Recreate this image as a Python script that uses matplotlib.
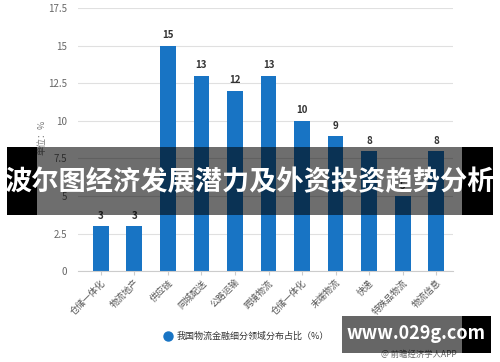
import matplotlib.pyplot as plt
from matplotlib.patches import Rectangle
from matplotlib.lines import Line2D

plt.rcParams['font.family'] = ['Noto Sans CJK SC', 'DejaVu Sans']

# chart data
categories = ["仓储一体化", "物流地产", "供应链", "同城配送", "公路运输", "跨境物流",
              "仓储一体化", "末端物流", "快递", "特殊品物流", "物流信息"]
values = [3, 3, 15, 13, 12, 13, 10, 9, 8, 5, 8]
yticks = [0, 2.5, 5, 7.5, 10, 12.5, 15, 17.5]
legend_label = "我国物流金融细分领域分布占比（%）"
banner_text = "波尔图经济发展潜力及外资投资趋势分析"

bar_color = '#1874c4'

fig = plt.figure(figsize=(5, 3.62), dpi=100)
ax = fig.add_axes([0.156, 0.251, 0.75, 0.727])

x = range(len(categories))
ax.bar(x, values, width=0.47, color=bar_color, zorder=2)

# value labels on top of bars
for xi, v in zip(x, values):
    ax.text(xi, v + 0.35, str(v), ha='center', va='bottom', fontsize=7,
            fontweight='bold', color='#333333', zorder=3)

ax.set_ylim(0, 17.5)
ax.set_xlim(-0.68, 10.5)
ax.set_yticks(yticks)
ax.set_yticklabels([f"{t:g}" for t in yticks], fontsize=7, color='#666666')
ax.set_xticks(list(x))
ax.set_xticklabels(categories, rotation=45, ha='right', rotation_mode='anchor',
                   fontsize=6.5, color='#555555')
ax.tick_params(axis='y', length=0, pad=8)
ax.tick_params(axis='x', length=3, color='#cccccc', pad=2)

ax.grid(axis='y', color='#e0e0e0', linewidth=0.8, zorder=0)
for s in ['top', 'right', 'left']:
    ax.spines[s].set_visible(False)
ax.spines['bottom'].set_color('#cccccc')

fig.text(0.084, 0.62, "单位：%", rotation=90, fontsize=6.5, color='#777777',
         ha='center', va='center')

# legend
fig.add_artist(Line2D([0.336], [0.072], marker='o', markersize=6.5,
                      color=bar_color, transform=fig.transFigure))
fig.text(0.354, 0.072, legend_label, fontsize=6.5, color='#333333',
         va='center', ha='left')

# overlay banner: black ends, translucent middle
fig.add_artist(Rectangle((0.014, 0.406), 0.06, 0.188, transform=fig.transFigure,
                         facecolor='black', edgecolor='none', zorder=10))
fig.add_artist(Rectangle((0.924, 0.406), 0.062, 0.188, transform=fig.transFigure,
                         facecolor='black', edgecolor='none', zorder=10))
fig.add_artist(Rectangle((0.074, 0.406), 0.85, 0.188, transform=fig.transFigure,
                         facecolor='black', alpha=0.57, edgecolor='none', zorder=10))
fig.text(0.5, 0.497, banner_text, fontsize=19.6, fontweight='bold', color='white',
         ha='center', va='center', zorder=11)

# site watermark
fig.add_artist(Rectangle((0.684, 0.025), 0.24, 0.102, transform=fig.transFigure,
                         facecolor='black', alpha=0.6, edgecolor='none', zorder=10))
fig.add_artist(Rectangle((0.924, 0.025), 0.058, 0.102, transform=fig.transFigure,
                         facecolor='black', edgecolor='none', zorder=10))
fig.text(0.832, 0.078, "www.029g.com", fontsize=13, fontweight='bold', color='white',
         ha='center', va='center', zorder=11)
fig.text(0.838, 0.022, "@ 前瞻经济学人APP", fontsize=6, color='#666666',
         ha='center', va='center', zorder=9)

fig.savefig('out.png', dpi=100)
